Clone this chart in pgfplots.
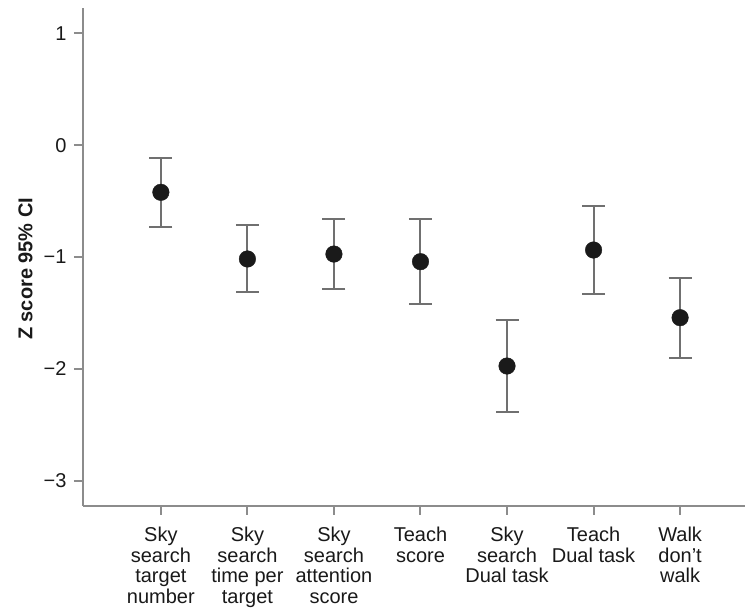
\documentclass[border=0pt]{standalone}
\usepackage{fontspec}
\setmainfont{Liberation Sans}
\usepackage{pgfplots}
\usepackage{pgfplotstable}
\pgfplotsset{compat=1.18}
\definecolor{axgray}{HTML}{8C8C8C}
\definecolor{ebgray}{HTML}{707070}
\definecolor{mk}{HTML}{1A1A1A}
\pgfplotstableread{
x y ep em
1 -0.421 0.309 0.310
2 -1.017 0.301 0.295
3 -0.973 0.316 0.313
4 -1.041 0.381 0.376
5 -1.974 0.411 0.414
6 -0.937 0.396 0.393
7 -1.542 0.352 0.361
}\datatab
\begin{document}
\begin{tikzpicture}
\useasboundingbox (-83bp,-105.3bp) rectangle (664bp,505.7bp);
\begin{axis}[
  scale only axis, width=662bp, height=497.7bp,
  xmin=0.1, xmax=7.75, ymin=-3.223, ymax=1.227,
  axis lines*=left,
  axis line style={axgray, line width=2.4bp},
  tick style={axgray, line width=2bp},
  tick align=outside, major tick length=9bp,
  xtick={1,...,7},
  xticklabels={{Sky\\search\\target\\number},{Sky\\search\\time per\\target},{Sky\\search\\attention\\score},{Teach\\score},{Sky\\search\\Dual task},{Teach\\Dual task},{Walk\\don’t\\walk}},
  ytick={-3,-2,-1,0,1},
  yticklabels={−3,−2,−1,0,1},
  xticklabel style={align=center, font=\fontsize{20bp}{20.5bp}\selectfont, text=black!90, yshift=-9bp},
  yticklabel style={font=\fontsize{20bp}{20.5bp}\selectfont, text=black!90, xshift=-4bp},
  ylabel={\textbf{Z score 95\% CI}},
  ylabel style={at={(axis description cs:-0.087,0.476)}, anchor=center, font=\fontsize{20bp}{21.5bp}\selectfont, text=black!90},
  clip=false,
]
\addplot[only marks, mark=*, mark size=8.3bp, mark options={fill=mk, draw=mk},
  error bars/.cd, y dir=both, y explicit,
  error bar style={ebgray, line width=2bp},
  error mark options={ebgray, line width=2bp, mark size=11.5bp, rotate=90}]
  table[x=x, y=y, y error plus=ep, y error minus=em] {\datatab};
\end{axis}
\end{tikzpicture}
\end{document}
